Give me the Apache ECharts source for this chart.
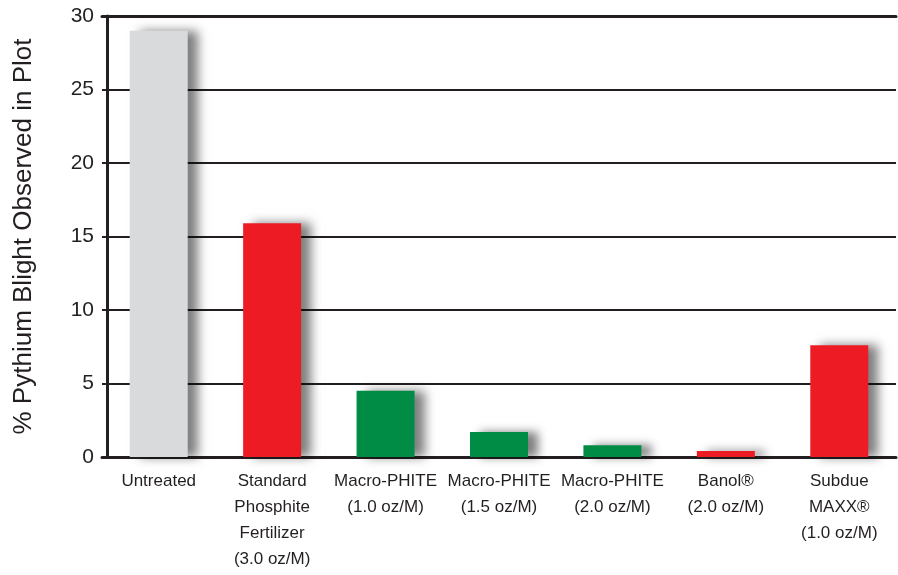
<!DOCTYPE html>
<html>
<head>
<meta charset="utf-8">
<script src="https://cdn.jsdelivr.net/npm/echarts@6/dist/echarts.min.js"></script>
<style>
html, body { margin: 0; padding: 0; background: #fff; }
#chart { width: 898px; height: 575px; }
</style>
</head>
<body>
<div id="chart"></div>
<script>
// categories and values
const categories = [
    'Untreated',
    'Standard\nPhosphite\nFertilizer\n(3.0 oz/M)',
    'Macro-PHITE\n(1.0 oz/M)',
    'Macro-PHITE\n(1.5 oz/M)',
    'Macro-PHITE\n(2.0 oz/M)',
    'Banol\u00AE\n(2.0 oz/M)',
    'Subdue\nMAXX\u00AE\n(1.0 oz/M)'
];
const blightValues = [29.0, 15.9, 4.5, 1.7, 0.8, 0.4, 7.6];
const barColors = ['#d9dadc', '#ed1c24', '#008c45', '#008c45', '#008c45', '#ed1c24', '#ed1c24'];
const yTicks = [0, 5, 10, 15, 20, 25, 30];

const chart = echarts.init(document.getElementById('chart'));

const option = {
    animation: false,
    grid: { left: 102, right: 2, top: 16, bottom: 118 },
    xAxis: [{
        type: 'category',
        data: categories,
        axisLine: { lineStyle: { color: '#231f20', width: 3 } },
        axisTick: { show: false },
        axisLabel: {
            interval: 0,
            color: '#231f20',
            fontFamily: 'Liberation Sans Narrow, Liberation Sans, Arial',
            fontSize: 17,
            lineHeight: 26,
            margin: 11
        }
    }, {
        type: 'category',
        position: 'top',
        data: categories,
        axisLine: { lineStyle: { color: '#231f20', width: 3 } },
        axisTick: { show: false },
        axisLabel: { show: false }
    }],
    yAxis: {
        type: 'value',
        min: yTicks[0],
        max: yTicks[yTicks.length - 1],
        interval: 5,
        offset: -5,
        name: '% Pythium Blight Observed in Plot',
        nameLocation: 'middle',
        nameGap: 70,
        nameTextStyle: { color: '#231f20', fontSize: 26, fontFamily: 'Liberation Sans, Arial' },
        axisLine: { show: true, lineStyle: { color: '#231f20', width: 3 } },
        axisTick: { show: false },
        axisLabel: { color: '#231f20', fontSize: 21, margin: 13, fontFamily: 'Liberation Sans, Arial' },
        splitLine: { lineStyle: { color: '#231f20', width: 2 } }
    },
    series: [{
        type: 'bar',
        barWidth: 58,
        data: blightValues.map((v, i) => ({
            value: v,
            itemStyle: { color: barColors[i] }
        })),
        itemStyle: {
            shadowColor: 'rgba(0,0,0,0.5)',
            shadowBlur: 10,
            shadowOffsetX: 10,
            shadowOffsetY: 0
        }
    }]
};

chart.setOption(option);
</script>
</body>
</html>
